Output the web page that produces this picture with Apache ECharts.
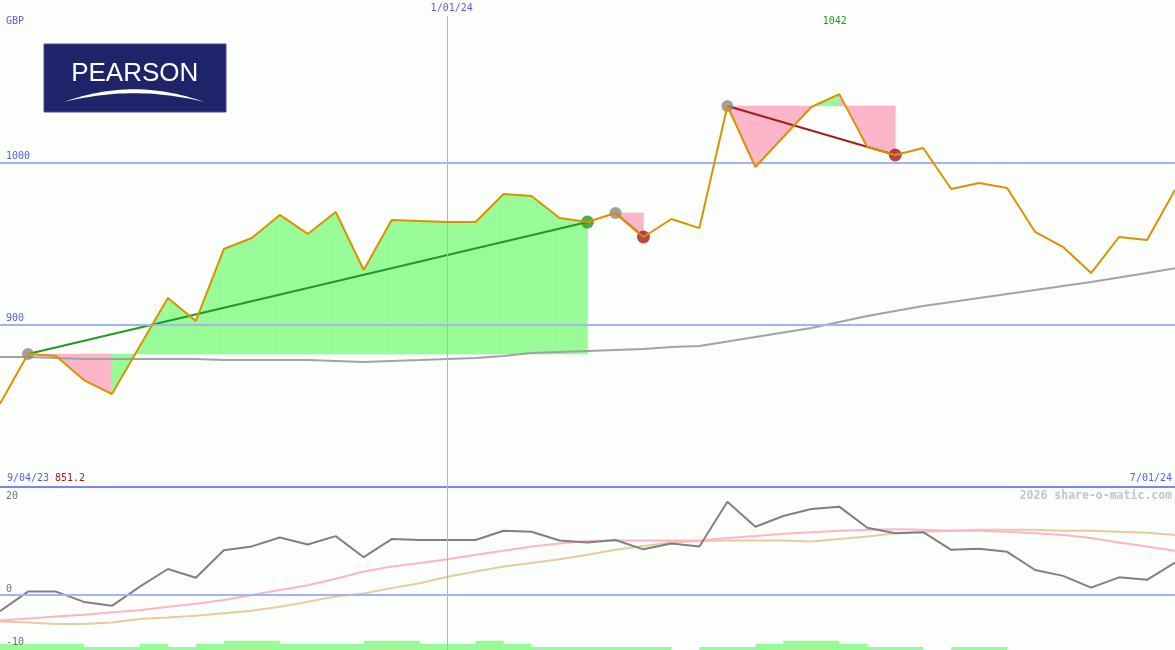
<!DOCTYPE html>
<html><head><meta charset="utf-8">
<script src="https://cdn.jsdelivr.net/npm/echarts@6/dist/echarts.min.js"></script>
<style>html,body{margin:0;padding:0;background:#fcfefc}#c{width:1175px;height:650px}</style>
</head><body><div id="c"></div>
<script>
// ---------------- data ----------------
const dates = ['9/11/23','9/18/23','9/25/23','10/02/23','10/09/23','10/16/23','10/23/23','10/30/23','11/06/23','11/13/23','11/20/23','11/27/23','12/04/23','12/11/23','12/18/23','12/25/23','1/01/24','1/08/24','1/15/24','1/22/24','1/29/24','2/05/24','2/12/24','2/19/24','2/26/24','3/04/24','3/11/24','3/18/24','3/25/24','4/01/24','4/08/24','4/15/24','4/22/24','4/29/24','5/06/24','5/13/24','5/20/24','5/27/24','6/03/24','6/10/24','6/17/24','6/24/24','7/01/24'];
const price = [851.2, 881.9, 880.7, 865.9, 857.3, 886.9, 916.4, 902.3, 946.6, 953.4, 967.6, 955.9, 969.4, 933.7, 964.5, 963.9, 963.2, 963.2, 980.5, 979.3, 965.7, 963.2, 968.8, 954.0, 965.1, 959.5, 1034.7, 997.1, 1015.6, 1034.1, 1042.0, 1009.4, 1004.5, 1008.8, 983.6, 987.3, 984.2, 957.1, 947.8, 931.8, 954.0, 952.2, 983.0];
const movingAvg = [880.1, 880.1, 879.5, 878.9, 878.9, 878.9, 878.9, 878.9, 878.2, 878.2, 878.2, 878.2, 877.6, 877.0, 877.6, 878.2, 878.9, 879.5, 880.7, 882.5, 883.2, 883.8, 884.4, 885.0, 886.2, 886.9, 889.6, 892.4, 895.2, 898.0, 901.6, 905.3, 908.4, 911.5, 914.0, 916.4, 918.9, 921.3, 923.8, 926.3, 929.1, 931.8, 934.7];
const oscMain = [-3.3, 0.7, 0.7, -1.4, -2.2, 1.7, 5.3, 3.5, 9.1, 9.9, 11.7, 10.3, 12.0, 7.7, 11.4, 11.2, 11.2, 11.2, 13.1, 12.9, 11.1, 10.7, 11.2, 9.3, 10.5, 9.9, 19.0, 13.9, 16.1, 17.5, 18.0, 13.7, 12.6, 12.8, 9.2, 9.4, 8.8, 5.1, 3.9, 1.5, 3.6, 3.1, 6.6];
const oscPink = [-5.2, -4.8, -4.4, -4.0, -3.5, -3.1, -2.4, -1.8, -1.0, 0.0, 1.0, 2.0, 3.3, 4.8, 5.8, 6.5, 7.3, 8.2, 9.0, 9.9, 10.5, 11.0, 11.1, 11.1, 11.1, 11.1, 11.6, 12.0, 12.5, 12.8, 13.1, 13.3, 13.4, 13.3, 13.1, 13.1, 12.9, 12.6, 12.2, 11.6, 10.7, 9.9, 9.0];
const oscTan = [-5.4, -5.6, -5.9, -5.9, -5.6, -4.9, -4.6, -4.2, -3.7, -3.2, -2.4, -1.4, -0.3, 0.3, 1.4, 2.4, 3.7, 4.8, 5.8, 6.5, 7.3, 8.2, 9.2, 10.0, 10.7, 11.0, 11.1, 11.1, 11.1, 10.9, 11.4, 11.9, 12.6, 12.9, 13.1, 13.3, 13.3, 13.3, 13.1, 13.1, 12.9, 12.7, 12.2];
const histogram = [2, 2, 2, 1, 1, 2, 1, 2, 3, 3, 2, 2, 2, 3, 3, 2, 2, 3, 2, 1, 1, 1, 1, 1, 0, 1, 1, 2, 3, 3, 2, 1, 1, 0, 1, 1, 0, 0, 0, 0, 0, 0, 0];
const trades = [{entry: 1, exit: 21}, {entry: 22, exit: 23}, {entry: 26, exit: 32}];
const priceTicks = [900, 1000];
const oscTicks = [20, 0, -10];
const markedDate = '1/01/24';
const currency = 'GBP';
const rangeStart = '9/04/23';
const rangeEnd = '7/01/24';
const credit = '2026 share-o-matic.com';
const logoText = 'PEARSON';

// ---------------- styles ----------------
const C = {
  bg: '#fcfefc', grid: '#a4b4f2', sep: '#7b86ec', axisText: '#5a5af2', oscText: '#707070',
  price: '#da9200', ma: '#a2a2a2', gain: '#98fb98', loss: '#fbb6c9',
  win: '#229922', lose: '#a31c1c', entry: '#8a8a8a',
  osc: '#808080', oscPink: '#fdb4c8', oscTan: '#e4cc9c', hist: '#98fb98', credit: '#c4c4c4',
  logo: '#1f246a'
};
const MONO = '"DejaVu Sans Mono", monospace';

const chart = echarts.init(document.getElementById('c'), null, {renderer: 'canvas'});

const fillItems = [];
trades.forEach(t => {
  const level = price[t.entry];
  for (let j = t.entry; j < t.exit; j++) {
    fillItems.push([j, level, price[j], price[j + 1], price[j + 1] >= level ? 1 : 0]);
  }
});

const tradeLines = trades.map(t => ({
  type: 'line', xAxisIndex: 0, yAxisIndex: 0, z: 3, silent: true, showSymbol: false, symbol: 'none',
  data: [[t.entry, price[t.entry]], [t.exit, price[t.exit]]],
  lineStyle: {width: 2, color: price[t.exit] >= price[t.entry] ? C.win : C.lose}
}));

const markers = [];
trades.forEach(t => {
  markers.push({value: [t.entry, price[t.entry]], symbolSize: 12, itemStyle: {color: C.entry}});
  markers.push({value: [t.exit, price[t.exit]], symbolSize: 13, itemStyle: {color: price[t.exit] >= price[t.entry] ? C.win : C.lose}});
});

const markedIdx = dates.indexOf(markedDate);

chart.setOption({
  animation: false,
  backgroundColor: C.bg,
  grid: [
    {left: 0, right: 0, top: 0, height: 487},
    {left: 0, right: 0, top: 487, height: 163}
  ],
  xAxis: [
    {type: 'category', gridIndex: 0, data: dates, boundaryGap: false,
     axisLine: {show: true, onZero: false, lineStyle: {color: C.sep, width: 2}},
     axisTick: {show: false}, axisLabel: {show: false}, splitLine: {show: false}},
    {type: 'category', gridIndex: 1, data: dates, boundaryGap: false,
     axisLine: {show: false}, axisTick: {show: false}, axisLabel: {show: false}, splitLine: {show: false}}
  ],
  yAxis: [
    {type: 'value', gridIndex: 0, min: 800, max: 1100, axisLine: {show: false}, axisTick: {show: false}, axisLabel: {show: false}, splitLine: {show: false}},
    {type: 'value', gridIndex: 1, min: -11.2, max: 22, axisLine: {show: false}, axisTick: {show: false}, axisLabel: {show: false}, splitLine: {show: false}},
    {type: 'value', gridIndex: 1, min: 0, max: 52.6, axisLine: {show: false}, axisTick: {show: false}, axisLabel: {show: false}, splitLine: {show: false}}
  ],
  series: [
    {type: 'line', xAxisIndex: 0, yAxisIndex: 0, z: 0, silent: true, data: [],
     markLine: {silent: true, symbol: 'none', label: {show: false}, animation: false,
       data: priceTicks.map(v => ({yAxis: v, lineStyle: {color: C.grid, width: 2, type: 'solid'}}))
         .concat([[{coord: [markedIdx, 1090], lineStyle: {color: C.grid, width: 1, type: 'solid'}}, {coord: [markedIdx, 800]}]])}},
    {type: 'line', xAxisIndex: 1, yAxisIndex: 1, z: 0, silent: true, data: [],
     markLine: {silent: true, symbol: 'none', label: {show: false}, animation: false,
       data: [{yAxis: 0, lineStyle: {color: C.grid, width: 2, type: 'solid'}},
              {xAxis: markedIdx, lineStyle: {color: C.grid, width: 1, type: 'solid'}}]}},
    {type: 'custom', xAxisIndex: 0, yAxisIndex: 0, z: 1, silent: true, data: fillItems,
     encode: {x: 0, y: 1},
     renderItem: function (params, api) {
       const j = api.value(0), L = api.value(1), p0 = api.value(2), p1 = api.value(3), up = api.value(4);
       const col = up ? C.gain : C.loss;
       return {type: 'polygon', shape: {points: [api.coord([j, L]), api.coord([j, p0]), api.coord([j + 1, p1]), api.coord([j + 1, L])]},
               style: {fill: col, stroke: col, lineWidth: 0.6}};
     }},
    {type: 'line', xAxisIndex: 0, yAxisIndex: 0, z: 2, silent: true, data: movingAvg, symbol: 'none',
     lineStyle: {color: C.ma, width: 2}},
    ...tradeLines,
    {type: 'scatter', xAxisIndex: 0, yAxisIndex: 0, z: 4, silent: true, symbol: 'circle', data: markers},
    {type: 'line', xAxisIndex: 0, yAxisIndex: 0, z: 5, silent: true, data: price, symbol: 'none',
     lineStyle: {color: C.price, width: 2}},
    {type: 'line', xAxisIndex: 1, yAxisIndex: 2, z: 1, silent: true, data: histogram, symbol: 'none', step: 'end',
     lineStyle: {width: 0, opacity: 0}, areaStyle: {color: C.hist, opacity: 1, origin: 'start'}},
    {type: 'line', xAxisIndex: 1, yAxisIndex: 1, z: 2, silent: true, data: oscTan, symbol: 'none', lineStyle: {color: C.oscTan, width: 2}},
    {type: 'line', xAxisIndex: 1, yAxisIndex: 1, z: 2, silent: true, data: oscPink, symbol: 'none', lineStyle: {color: C.oscPink, width: 2}},
    {type: 'line', xAxisIndex: 1, yAxisIndex: 1, z: 3, silent: true, data: oscMain, symbol: 'none', lineStyle: {color: C.osc, width: 2}}
  ]
});

// ---------------- text labels placed through the axes ----------------
const pTop = (x, y) => chart.convertToPixel({xAxisIndex: 0, yAxisIndex: 0}, [x, y]);
const pBot = (x, y) => chart.convertToPixel({xAxisIndex: 1, yAxisIndex: 1}, [x, y]);
const txt = (x, y, s, color, extra) => Object.assign({
  type: 'text', x: x, y: y, silent: true, z: 20,
  style: Object.assign({text: s, fill: color, font: '10px ' + MONO, textAlign: 'left', textVerticalAlign: 'middle'}, extra || {})
});

let maxI = 0, minI = 0;
price.forEach((v, i) => { if (v > price[maxI]) maxI = i; if (v < price[minI]) minI = i; });

const g = [];
g.push(txt(6, 21, currency, C.axisText));
priceTicks.forEach(v => g.push(txt(6, pTop(0, v)[1] - 6, String(v), C.axisText)));
g.push(txt(pTop(markedIdx, 0)[0] - 17, 8.5, markedDate, C.axisText));
g.push(txt(pTop(maxI, 0)[0] - 16.6, 21, String(Math.round(price[maxI])), C.win));
g.push(txt(7, 478.5, rangeStart, C.axisText));
g.push(txt(55, 478.5, price[minI].toFixed(1), C.lose));
g.push(txt(1172, 478.5, rangeEnd, C.axisText, {textAlign: 'right'}));
const oscOff = {'20': 0, '0': -6, '-10': -1.5};
oscTicks.forEach(v => g.push(txt(6, pBot(0, v)[1] + oscOff[String(v)], String(v), C.oscText)));
g.push(txt(1172, 496, credit, C.credit, {textAlign: 'right', font: 'bold 11.5px ' + MONO}));

// logo (decorative)
g.push({type: 'rect', silent: true, z: 20, shape: {x: 44, y: 44, width: 182, height: 68}, style: {fill: C.logo, stroke: '#4a4e86', lineWidth: 1}});
g.push({type: 'text', silent: true, z: 21, x: 134.7, y: 73.5,
  style: {text: logoText, fill: '#ffffff', font: '26px "Liberation Sans", sans-serif', textAlign: 'center', textVerticalAlign: 'middle'}});
const quad = (p0, c, p1, n) => { const out = []; for (let k = 0; k <= n; k++) { const t = k / n, u = 1 - t;
  out.push([u * u * p0[0] + 2 * u * t * c[0] + t * t * p1[0], u * u * p0[1] + 2 * u * t * c[1] + t * t * p1[1]]); } return out; };
const swoosh = quad([64, 102], [134, 76.5], [204, 102], 30).concat(quad([204, 102], [134, 84.5], [64, 102], 30));
g.push({type: 'polygon', silent: true, z: 21, shape: {points: swoosh}, style: {fill: '#ffffff'}});

chart.setOption({graphic: g});
</script>
</body></html>
